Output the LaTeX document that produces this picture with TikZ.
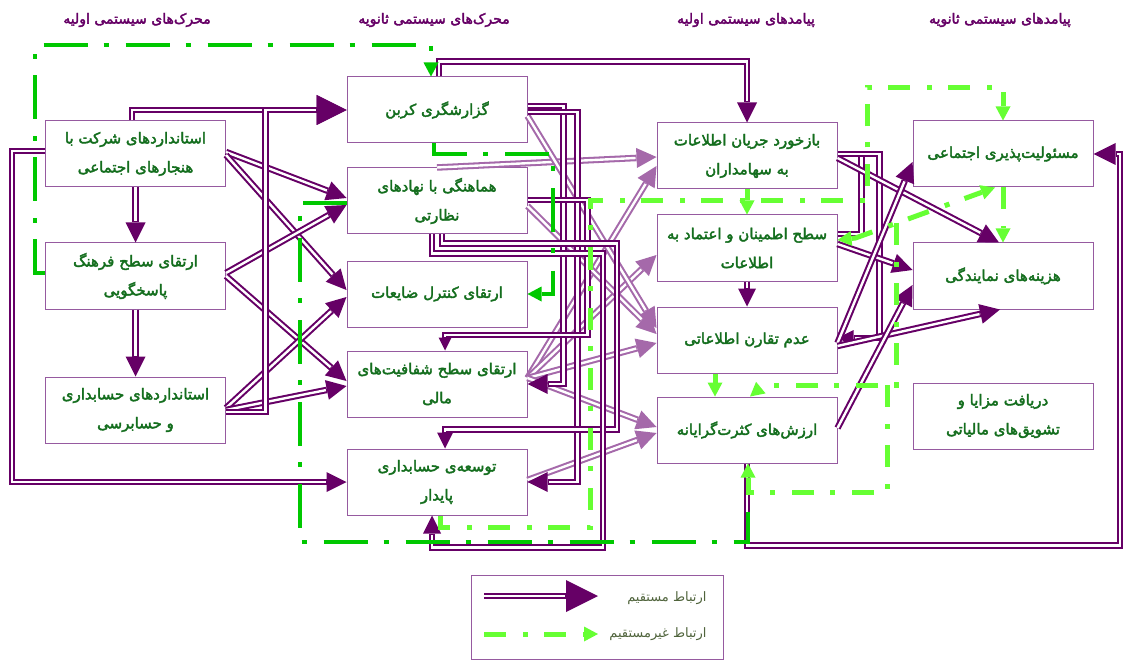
\documentclass[tikz,border=0pt]{standalone}
\usepackage{fontspec}
\usetikzlibrary{arrows.meta}
\TeXXeTstate=1
\newfontfamily\fa[Script=Arabic,FakeBold=2.5]{DejaVu Sans}
\newfontfamily\fal[Script=Arabic]{DejaVu Sans}
\definecolor{pur}{RGB}{102,0,102}
\definecolor{fad}{RGB}{165,105,170}
\definecolor{boxc}{RGB}{150,90,160}
\definecolor{txtg}{RGB}{20,110,30}
\definecolor{dgr}{RGB}{0,200,0}
\definecolor{lgr}{RGB}{102,255,51}
\definecolor{legtxt}{RGB}{80,100,60}
\tikzset{
 box/.style={draw=boxc, line width=1pt, fill=white, minimum width=180pt, minimum height=66pt, inner sep=2pt, align=center, text=txtg, font=\fa\fontsize{15}{29}\selectfont},
 ttl/.style={text=pur, font=\fa\fontsize{14}{16}\selectfont},
 legt/.style={text=legtxt, font=\fal\fontsize{13}{15}\selectfont},
 dg/.style={draw=dgr, line width=4pt, dash pattern=on 44pt off 16pt on 5pt off 17pt},
 lg/.style={draw=lgr, line width=5pt, dash pattern=on 22pt off 17pt on 5pt off 16pt},
 gtip/.style={-{Triangle[length=14pt,width=15pt,line width=0pt]}},
 gboth/.style={{Triangle[length=14pt,width=15pt,line width=0pt]}-{Triangle[length=14pt,width=15pt,line width=0pt]}},
}
\newcommand\pd[3][pur]{\draw[line width=6.5pt,draw=#1,-{Triangle[length=#2pt,width=#2pt,line width=0pt]}]#3;\draw[line width=2.4pt,draw=white,shorten >={#2pt+1pt}]#3;}
\newcommand\pl[2][pur]{\draw[line width=6.5pt,draw=#1]#2;\draw[line width=2.4pt,draw=white]#2;}
\begin{document}
\begin{tikzpicture}[x=1pt,y=-1pt]
\fill[white] (0,0) rectangle (1126,660);
\useasboundingbox (0,0) rectangle (1126,660);
% titles
\node[ttl] (T1) at (137,20) {\beginR محرک^^^^200cهای سیستمی اولیه\endR};
\node[ttl] (T2) at (434,20) {\beginR محرک^^^^200cهای سیستمی ثانویه\endR};
\node[ttl] (T3) at (746,20) {\beginR پیامدهای سیستمی اولیه\endR};
\node[ttl] (T4) at (1000,20) {\beginR پیامدهای سیستمی ثانویه\endR};
% boxes
\node[box] (A1) at (135.5,154) {\beginR استانداردهای شرکت با\endR\\\beginR هنجارهای اجتماعی\endR};
\node[box] (A2) at (135.5,276) {\beginR ارتقای سطح فرهنگ\endR\\\beginR پاسخگویی\endR};
\node[box] (A3) at (135.5,410) {\beginR استانداردهای حسابداری\endR\\\beginR و حسابرسی\endR};
\node[box] (B1) at (437,110) {\beginR گزارشگری کربن\endR};
\node[box] (B2) at (437,201) {\beginR هماهنگی با نهادهای\endR\\\beginR نظارتی\endR};
\node[box] (B3) at (437,294) {\beginR ارتقای کنترل ضایعات\endR};
\node[box] (B4) at (437,384) {\beginR ارتقای سطح شفافیت^^^^200cهای\endR\\\beginR مالی\endR};
\node[box] (B5) at (437,482) {\beginR توسعه^^^^200cی حسابداری\endR\\\beginR پایدار\endR};
\node[box] (C1) at (747,156) {\beginR بازخورد جریان اطلاعات\endR\\\beginR به سهامداران\endR};
\node[box] (C2) at (747,248) {\beginR سطح اطمینان و اعتماد به\endR\\\beginR اطلاعات\endR};
\node[box] (C3) at (747,340) {\beginR عدم تقارن اطلاعاتی\endR};
\node[box] (C4) at (747,430) {\beginR ارزش^^^^200cهای کثرت^^^^200cگرایانه\endR};
\node[box] (D1) at (1003,154) {\beginR مسئولیت^^^^200cپذیری اجتماعی\endR};
\node[box] (D2) at (1003,276) {\beginR هزینه^^^^200cهای نمایندگی\endR};
\node[box] (D3) at (1003,416) {\beginR دریافت مزایا و\endR\\\beginR تشویق^^^^200cهای مالیاتی\endR};
% faded links
\pd[fad]{20}{(B2.north) -- ([yshift=-1pt]C1.west)}
\pd[fad]{20}{([yshift=6pt]B4.east) -- ([yshift=-10pt]C1.west)}
\pd[fad]{20}{([yshift=6pt]B4.east) -- ([yshift=-7pt]C2.west)}
\pd[fad]{20}{([yshift=-6pt]B1.east) -- ([yshift=12pt]C3.west)}
\pd[fad]{20}{([yshift=-5pt]B2.east) -- ([yshift=6pt]C3.west)}
\pd[fad]{20}{([yshift=6pt]B4.east) -- ([yshift=-3pt]C3.west)}
\pd[fad]{20}{([yshift=6pt]B4.east) -- ([yshift=3pt]C4.west)}
\pd[fad]{20}{([yshift=2pt]B5.east) -- ([yshift=-3pt]C4.west)}
% direct links, column 1
\pd{30}{([xshift=-3.5pt]A1.north) |- (B1.west)}
\pd{20}{(A1.south) -- (A2.north)}
\pd{20}{(A2.south) -- (A3.north)}
\pd{20}{([yshift=2pt]A1.east) -- ([yshift=3pt]B2.west)}
\pd{20}{([yshift=-1pt]A1.east) -- ([yshift=4pt]B3.west)}
\pd{20}{([yshift=3pt]A2.east) -- ([yshift=-4pt]B2.west)}
\pd{20}{(A2.east) -- ([yshift=3pt]B4.west)}
\pd{20}{([yshift=2pt]A3.east) -- ([yshift=-3pt]B3.west)}
\pd{20}{(A3.east) -- ([yshift=-2pt]B4.west)}
\pd{30}{([yshift=-2pt]A3.east) -| ([xshift=-81pt]B1.west) -- (B1.west)}
\pd{20}{([yshift=3pt]A1.west) -- ++(-33,0) |- (B5.west)}
% column 2
\pd{20}{([xshift=2pt]B1.north) -- ++(0,-15) -| (C1.north)}
\pd{20}{([yshift=4pt]B1.east) -- ++(36,0) |- (B4.east)}
\pd{20}{([yshift=-2pt]B1.east) -- ++(50,0) |- (B5.east)}
\pd{13}{([yshift=1pt]B2.east) -- ++(60,0) -- ++(0,135) -| ([xshift=8pt]B4.north)}
\pd{16}{([xshift=5pt]B2.south) -- ++(0,9) -- ++(175,0) -- ++(0,186) -| ([xshift=8pt]B5.north)}
\pd{18}{([xshift=-5pt]B2.south) -- ++(0,19) -- ++(171,0) -- ++(0,294) -| ([xshift=-5pt]B5.south)}
% column 3
\pd{18}{(C2.south) -- (C3.north)}
\pl{([yshift=14pt]C2.east) -| ([xshift=24pt,yshift=2pt]C1.east)}
\pd{16}{([yshift=2pt]C1.east) -- ++(42,0) |- ([yshift=2pt]C3.east)}
\pd{20}{([yshift=-2pt]C1.east) -- ([xshift=-4pt]D2.north)}
\pd{20}{([yshift=4pt]C2.east) -- ([yshift=6pt]D2.west)}
\pd{20}{([yshift=-3pt]C3.east) -- ([yshift=-8pt]D1.west)}
\pd{20}{([yshift=-6pt]C3.east) -- ([xshift=-3pt]D2.south)}
\pd{20}{([yshift=2pt]C4.east) -- ([yshift=-9pt]D2.west)}
\pd{22}{(C4.south) -- ++(0,82) -- ++(373,0) |- (D1.east)}
% indirect links
\draw[dg,gtip] ([yshift=3pt]A2.west) -- ++(-10,0) |- ([xshift=-6pt,yshift=31pt]B1.north) -- ([xshift=-6pt]B1.north);
\draw[dg,gtip] ([xshift=-3pt]B1.south) -- ++(0,11) -- ++(119,0) |- (B3.east);
\draw[dg] ([yshift=-2pt]B2.west) -- ++(-47,0) -- ++(0,339) -- ++(448,0) -- ++(0,-40);
\draw[lg,gtip] ([xshift=3pt]B5.south) -- ++(0,12) -- ++(150,0) -- ++(0,-327) -- ++(277,0) -- ++(0,-113) -| (D1.north);
\draw[lg,gtip] (C1.south) -- (C2.north);
\draw[lg,gboth] ([yshift=8pt]C2.east) -- ++(18,-2) -- ([xshift=-8pt]D1.south);
\coordinate (g1) at (896,223);
\coordinate (g2) at (887,385);
\draw[lg,gtip] (g1) -- (896,385) -- (764,385) -- ([xshift=3pt]C4.north);
\draw[lg,gtip] (g2) -- ++(0,107) -| ([xshift=1pt]C4.south);
\draw[lg,gtip] ([xshift=-32pt]C3.south) -- ([xshift=-32pt]C4.north);
\draw[lg,gtip] (D1.south) -- (D2.north);
% legend
\node[draw=boxc, line width=1pt, minimum width=252pt, minimum height=84pt] (leg) at (597,617) {};
\coordinate (la) at (484,596);
\coordinate (lb) at (598,596);
\coordinate (lc) at (484,634);
\coordinate (ld) at (598,634);
\pd{32}{(la) -- (lb)}
\draw[lg,gtip] (lc) -- (ld);
\node[legt, anchor=east] (lt1) at (710,598) {\beginR ارتباط مستقیم\endR};
\node[legt, anchor=east] (lt2) at (710,634) {\beginR ارتباط غیرمستقیم\endR};
\end{tikzpicture}
\end{document}
